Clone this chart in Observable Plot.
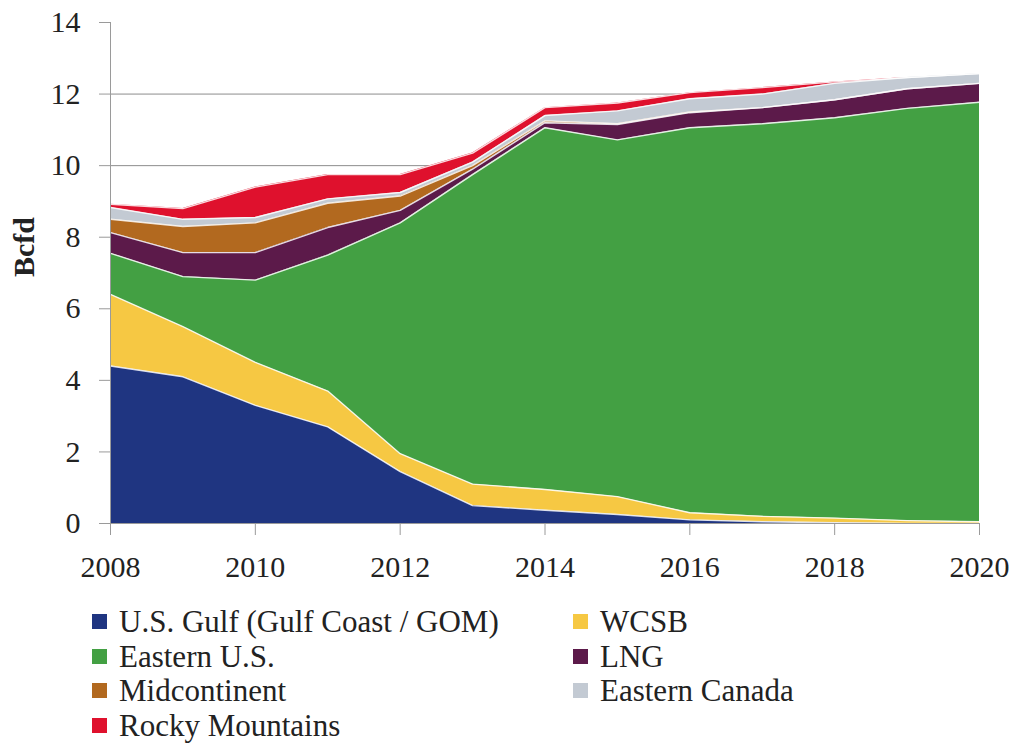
<!DOCTYPE html>
<html><head><meta charset="utf-8">
<script src="https://cdn.jsdelivr.net/npm/d3@7"></script>
<script src="https://cdn.jsdelivr.net/npm/@observablehq/plot@0.6"></script>
<style>
body{margin:0;background:#fff;font-family:"Liberation Serif",serif;color:#222;}
#wrap{position:relative;width:1015px;height:743px;}
.li{position:absolute;display:flex;align-items:center;font-size:31px;color:#222;white-space:nowrap;line-height:1;}
.sw{width:15px;height:15px;margin-right:12px;display:inline-block;}
</style></head><body><div id="wrap"><div id="chart"></div></div>
<script>
const years = [2008,2009,2010,2011,2012,2013,2014,2015,2016,2017,2018,2019,2020];
const seriesNames = ["U.S. Gulf (Gulf Coast / GOM)","WCSB","Eastern U.S.","LNG","Midcontinent","Eastern Canada","Rocky Mountains"];
const seriesColors = ["#1f3581","#f6c843","#43a043","#5c1a4a","#b2691f","#c3cad3","#df112d"];
const gulf        = [4.4,4.1,3.3,2.7,1.45,0.5,0.37,0.25,0.1,0.05,0.02,0,0];
const wcsb        = [2.0,1.4,1.2,1.0,0.5,0.6,0.58,0.5,0.2,0.15,0.13,0.08,0.05];
const easternUS   = [1.15,1.4,2.3,3.8,6.45,8.65,10.11,9.97,10.76,10.97,11.19,11.52,11.72];
const lng         = [0.58,0.67,0.77,0.77,0.35,0.15,0.14,0.43,0.42,0.45,0.5,0.55,0.53];
const midcont     = [0.37,0.73,0.83,0.68,0.4,0.1,0.05,0.02,0.02,0,0,0,0];
const easternCan  = [0.33,0.2,0.15,0.12,0.1,0.1,0.15,0.36,0.37,0.38,0.46,0.31,0.27];
const rocky       = [0.09,0.3,0.85,0.68,0.5,0.25,0.22,0.22,0.17,0.18,0.04,0,0];
const yTicks = [0,2,4,6,8,10,12,14];
const xTicks = [2008,2010,2012,2014,2016,2018,2020];
const yLabel = "Bcfd";

const valueArrays = [gulf,wcsb,easternUS,lng,midcont,easternCan,rocky];
const data = [];
seriesNames.forEach((s,i)=>years.forEach((y,j)=>data.push({year:y, series:s, value:valueArrays[i][j]})));

const chart = Plot.plot({
  width:1015, height:590,
  marginLeft:110, marginRight:36, marginTop:22, marginBottom:67,
  style:{fontFamily:"'Liberation Serif', serif", color:"#222", background:"transparent"},
  x:{domain:[2008,2020]},
  y:{domain:[0,14]},
  color:{domain:seriesNames, range:seriesColors},
  marks:[
    Plot.gridY(yTicks.filter(d=>d>0&&d<14), {stroke:"#8c8c8c", strokeOpacity:1}),
    Plot.areaY(data, {x:"year", y:"value", z:"series", fill:"series", fillOpacity:1}),
    Plot.lineY(data, Plot.stackY2({x:"year", y:"value", z:"series", stroke:"white", strokeWidth:1.4, strokeOpacity:0.85})),
    Plot.ruleX([2008], {stroke:"#9a9a9a"}),
    Plot.ruleY([0], {stroke:"#9a9a9a"}),
    Plot.axisY({ticks:yTicks, tickSize:11, tickPadding:19, fontSize:30, stroke:"#9a9a9a", label:null, tickFormat:d=>String(d)}),
    Plot.axisX({ticks:xTicks, tickSize:12, tickPadding:20, fontSize:30, stroke:"#9a9a9a", label:null, tickFormat:d=>String(d)}),
    Plot.text([yLabel], {frameAnchor:"left", dx:-86, dy:4, rotate:-90, fontSize:30, fontWeight:"bold", fill:"#222"})
  ]
});
document.getElementById("chart").appendChild(chart);

const wrap = document.getElementById("wrap");
const colX = [[92,120],[573,600]];
const rowY = [621,656,690,725];
seriesNames.forEach((s,i)=>{
  const c = i%2, r = Math.floor(i/2);
  const el = document.createElement("div");
  el.className = "li";
  el.style.left = colX[c][0]+"px";
  el.style.top = (rowY[r]-15)+"px";
  el.style.height = "30px";
  el.innerHTML = `<span class="sw" style="background:${seriesColors[i]}"></span><span>${s}</span>`;
  wrap.appendChild(el);
});
</script></body></html>
